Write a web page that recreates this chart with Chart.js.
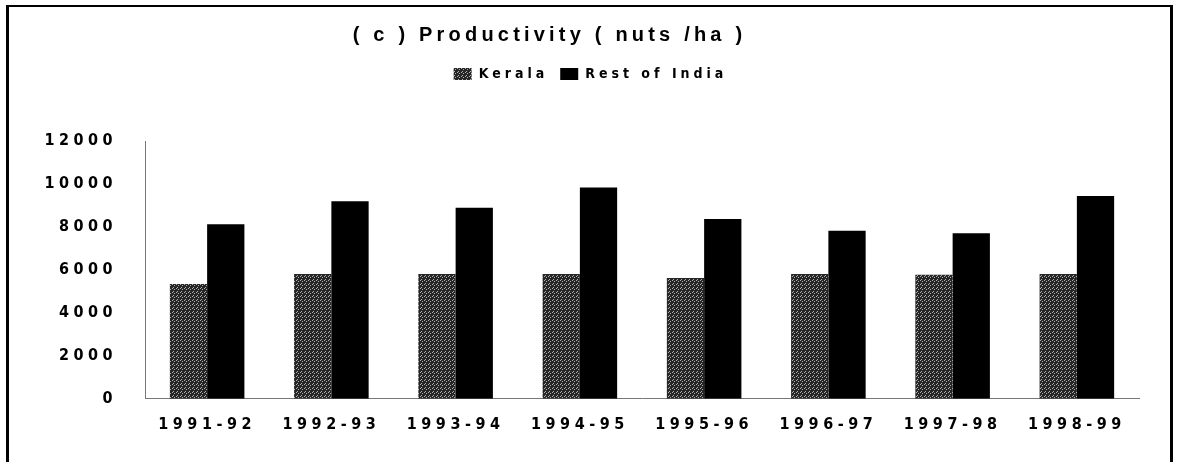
<!DOCTYPE html>
<html>
<head>
<meta charset="utf-8">
<script src="https://cdn.jsdelivr.net/npm/chart.js@4.4.1/dist/chart.umd.min.js"></script>
<style>
	body { margin: 0; background: #fff; overflow: hidden; }
	#wrap { position: relative; width: 1178px; height: 462px; }
	#frame {
		position: absolute; left: 6px; top: 5px; width: 1161px; height: 500px;
		border-left: 3px solid #000; border-right: 3px solid #000; border-top: 2px solid #000;
		pointer-events: none;
	}
</style>
</head>
<body>
<div id="wrap">
	<canvas id="chart_productivity" width="1178" height="462"></canvas>
	<div id="frame"></div>
</div>
<script>
var years = ['1991-92', '1992-93', '1993-94', '1994-95', '1995-96', '1996-97', '1997-98', '1998-99'];
var kerala = [5340, 5810, 5810, 5810, 5620, 5810, 5780, 5810];
var rest_of_india = [8120, 9190, 8890, 9830, 8370, 7820, 7710, 9440];
var y_ticks = [0, 2000, 4000, 6000, 8000, 10000, 12000];

var narrow = "'DejaVu Sans Condensed', 'Liberation Sans', sans-serif";

// speckled grey fill for Kerala, like the scanned print
function speckle() {
	var c = document.createElement('canvas');
	c.width = 4; c.height = 4;
	var g = c.getContext('2d');
	g.fillStyle = '#262626';
	g.fillRect(0, 0, 4, 4);
	g.fillStyle = '#b0b0b0';
	g.fillRect(0, 0, 1, 1);
	g.fillRect(2, 1, 1, 1);
	g.fillRect(1, 3, 1, 1);
	return g.createPattern(c, 'repeat');
}

var spacing = {
	id: 'spacing',
	afterInit: function (chart) {
		var title = chart.titleBlock;
		var title_draw = title.draw;
		title.draw = function () {
			var ctx = chart.ctx;
			ctx.save();
			ctx.letterSpacing = '4.2px';
			ctx.translate(-20, 0);
			title_draw.apply(this, arguments);
			ctx.restore();
		};
		var legend = chart.legend;
		var legend_fit = legend.fit;
		legend.fit = function () {
			chart.ctx.letterSpacing = '4px';
			legend_fit.apply(this, arguments);
			chart.ctx.letterSpacing = '4.5px';
			this.height += 50;
		};
		var legend_draw = legend.draw;
		legend.draw = function () {
			var ctx = chart.ctx;
			ctx.save();
			ctx.letterSpacing = '4px';
			ctx.translate(21, 0);
			legend_draw.apply(this, arguments);
			ctx.restore();
		};
	},
	beforeLayout: function (chart) { chart.ctx.letterSpacing = '4.5px'; },
	beforeDraw: function (chart) { chart.ctx.letterSpacing = '4.5px'; }
};

var chart_productivity = new Chart(
	document.getElementById('chart_productivity'),
	{
		type: 'bar',
		data: {
			labels: years,
			datasets: [
				{
					label: 'Kerala',
					backgroundColor: speckle(),
					borderWidth: 0,
					data: kerala,
				},
				{
					label: 'Rest of India',
					backgroundColor: '#000000',
					borderWidth: 0,
					data: rest_of_india,
				}
			]
		},
		options: {
			responsive: false,
			animation: false,
			devicePixelRatio: 1,
			layout: { padding: { left: 0, right: 39, top: 0, bottom: 12 } },
			categoryPercentage: 0.6,
			barPercentage: 1.0,
			plugins: {
				title: {
					display: true,
					text: '( c ) Productivity ( nuts /ha )',
					color: '#000',
					font: { family: "'Liberation Sans', Arial, sans-serif", size: 20, weight: 'bold' },
					padding: { top: 23, bottom: 8 }
				},
				legend: {
					display: true,
					labels: {
						color: '#000',
						font: { family: narrow, size: 14, weight: 'bold' },
						boxWidth: 18,
						boxHeight: 12,
						padding: 12
					}
				},
				tooltip: { enabled: false }
			},
			scales: {
				x: {
					grid: { display: false, drawTicks: false },
					border: { display: true, color: '#777', dash: [3, 3] },
					ticks: {
						color: '#000',
						font: { family: narrow, size: 16, weight: 'bold' },
						padding: 16,
						maxRotation: 0,
						autoSkip: false
					}
				},
				y: {
					min: 0,
					max: 12000,
					afterFit: function (scale) { scale.width = 145; },
					afterBuildTicks: function (scale) {
						scale.ticks = y_ticks.map(function (v) { return { value: v }; });
					},
					grid: { display: false, drawTicks: false },
					border: { display: true, color: '#777', dash: [2, 3] },
					ticks: {
						color: '#000',
						font: { family: narrow, size: 16, weight: 'bold' },
						padding: 28,
						callback: function (v) { return String(v); }
					}
				}
			}
		},
		plugins: [spacing]
	}
);
</script>
</body>
</html>
